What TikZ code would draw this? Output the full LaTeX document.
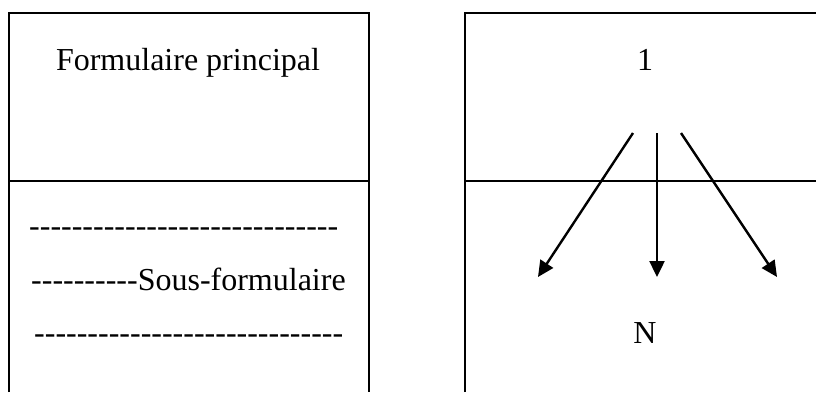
\documentclass[tikz,border=0pt]{standalone}
\usepackage{fontspec}
\setmainfont{Liberation Serif}[Ligatures=TeXOff]
\usetikzlibrary{arrows.meta}
\begin{document}
\begin{tikzpicture}[x=1pt,y=-1pt,
  frame/.style={line width=1.5pt,black},
  lbl/.style={inner sep=0pt,font=\fontsize{32}{38}\selectfont},
  arr/.style={line width=2.4pt,-{Triangle[length=16pt,width=15pt]}}]
\useasboundingbox (0,0) rectangle (816,392);
% left frame
\draw[frame] (9,392) -- (9,13) -- (369,13) -- (369,392);
\draw[frame] (9,181) -- (369,181);
% right frame
\draw[frame] (465,392) -- (465,13) -- (816,13);
\draw[frame] (465,181) -- (816,181);
% left texts
\node[lbl,anchor=base] (fp) at (188,70) {Formulaire principal};
\node[lbl,anchor=base west] (d1) at (29,236) {-----------------------------};
\node[lbl,anchor=base west] (sf) at (31,290) {----------Sous-formulaire};
\node[lbl,anchor=base west] (d3) at (34,343) {-----------------------------};
% right texts
\node[lbl,anchor=base] (one) at (645,70) {1};
\node[lbl,anchor=base] (n) at (645,343) {N};
% arrows
\coordinate (s1) at (633,133);
\coordinate (s2) at (657,133);
\coordinate (s3) at (681,133);
\coordinate (e1) at (538,277);
\coordinate (e2) at (657,277);
\coordinate (e3) at (777,277);
\draw[arr] (s1) -- (e1);
\draw[arr] (s2) -- (e2);
\draw[arr] (s3) -- (e3);
\end{tikzpicture}
\end{document}
